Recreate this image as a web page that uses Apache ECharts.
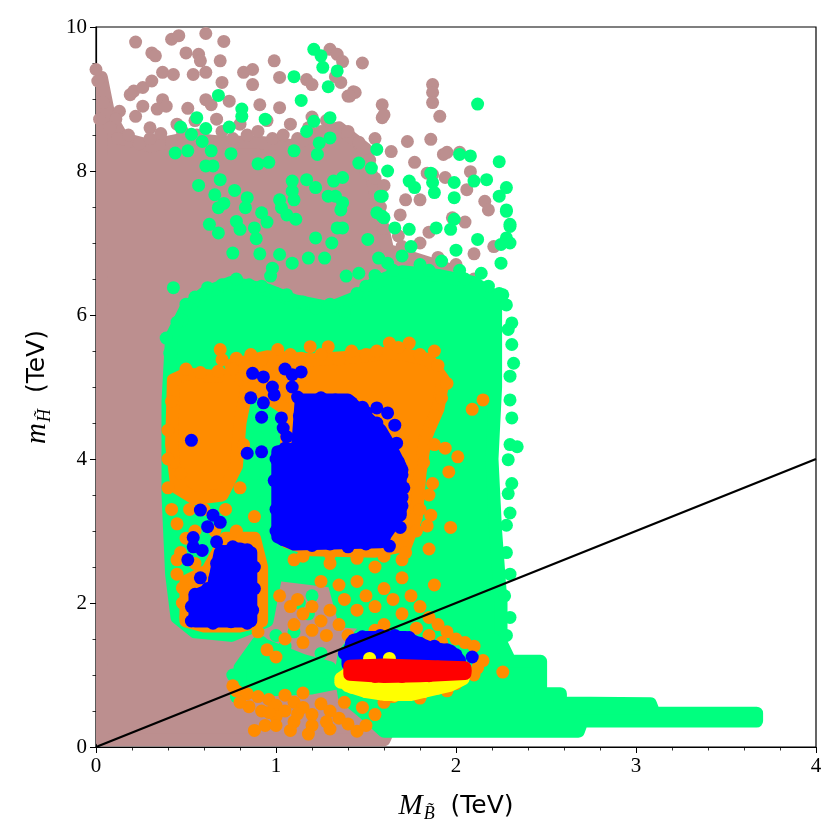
<!DOCTYPE html>
<html>
<head>
<meta charset="utf-8">
<script src="https://cdn.jsdelivr.net/npm/echarts@6/dist/echarts.min.js"></script>
<style>
	html, body { margin:0; padding:0; background:#fff; }
	#chart { width:840px; height:840px; }
</style>
</head>
<body>
<div id="chart"></div>
<script>
	// axis ticks
	var xTicks = [0, 1, 2, 3, 4];
	var yTicks = [0, 2, 4, 6, 8, 10];

	// dense regions (outlines of the dot clouds, TeV)
	var brownRegion = [[0.03,0.1],[0.03,9.3],[0.07,8.8],[0.15,8.45],[0.3,8.35],[0.5,8.45],[0.7,8.4],[0.9,8.4],[1.1,8.35],[1.2,8.5],[1.35,8.6],[1.5,8.3],[1.56,7.6],[1.62,6.9],[2.0,6.6],[2.15,6.2],[2.15,2.0],[1.8,1.2],[1.6,0.1]];
	var greenRegions = [
		[[0.42,5.7],[0.5,6.1],[0.6,6.3],[0.75,6.45],[0.95,6.35],[1.1,6.2],[1.3,6.1],[1.45,6.25],[1.55,6.45],[1.7,6.6],[1.9,6.55],[2.1,6.45],[2.22,6.25],[2.22,5.0],[2.2,4.0],[2.22,3.0],[2.25,2.0],[2.25,1.45],[1.9,1.55],[1.6,1.7],[1.38,1.75],[1.32,2.3],[1.0,2.4],[0.95,1.75],[0.75,1.55],[0.55,1.6],[0.45,1.8],[0.42,2.4],[0.4,3.5],[0.4,4.8]],
		[[0.8,0.78],[0.8,1.1],[0.9,1.45],[1.0,1.35],[1.15,1.2],[1.3,1.1],[1.36,0.9],[1.2,0.82],[1.0,0.8]],
		[[1.38,1.3],[1.5,1.65],[1.8,1.7],[2.05,1.6],[2.25,1.45],[2.3,1.19],[2.47,1.19],[2.47,0.74],[2.58,0.74],[2.58,0.61],[3.08,0.6],[3.1,0.47],[3.67,0.47],[3.67,0.36],[2.7,0.36],[2.68,0.22],[1.6,0.22],[1.5,0.45],[1.38,0.7],[1.36,1.0]]
	];
	var orangeRegions = [
		[[0.43,5.1],[0.5,5.18],[0.65,5.15],[0.8,5.18],[0.84,5.0],[0.8,4.5],[0.78,3.9],[0.7,3.5],[0.55,3.45],[0.45,3.6],[0.42,4.2]],
		[[0.5,1.75],[0.5,2.3],[0.62,2.45],[0.72,2.9],[0.88,2.9],[0.92,2.5],[0.92,1.75],[0.8,1.68],[0.6,1.68]],
		[[0.75,5.3],[0.95,5.42],[1.2,5.38],[1.45,5.42],[1.65,5.48],[1.85,5.38],[1.93,5.1],[1.9,4.7],[1.83,4.3],[1.8,3.8],[1.78,3.2],[1.72,2.8],[1.55,2.72],[1.2,2.74],[1.06,2.85],[1.06,4.2],[1.05,4.7],[0.9,4.95]]
	];
	var blueRegions = [
		[[1.01,2.92],[1.01,4.1],[1.12,4.15],[1.14,4.82],[1.4,4.82],[1.58,4.4],[1.65,4.1],[1.69,3.9],[1.69,3.25],[1.58,2.85],[1.1,2.82]],
		[[0.55,1.75],[0.55,2.1],[0.65,2.2],[0.69,2.7],[0.8,2.75],[0.86,2.7],[0.86,1.75]],
		[[1.4,1.3],[1.43,1.48],[1.5,1.52],[1.72,1.52],[1.78,1.45],[1.85,1.38],[1.97,1.33],[2.02,1.2],[1.4,1.15]]
	];
	var yellowRegion = [[1.36,0.95],[1.4,1.02],[2.0,1.0],[2.04,0.95],[1.97,0.86],[1.85,0.79],[1.75,0.73],[1.6,0.73],[1.5,0.77],[1.4,0.85]];
	var redRegion = [[1.41,1.01],[1.41,1.12],[1.6,1.14],[1.8,1.12],[2.05,1.1],[2.05,1.02],[1.8,0.99],[1.6,0.98]];

	// scattered points (TeV)
	var brownDots = [[0.22,9.79],[0.42,9.83],[0.46,9.88],[0.61,9.91],[0.71,9.8],[0.31,9.64],[0.33,9.6],[0.5,9.64],[0.57,9.62],[0.58,9.53],[0.69,9.53],[0.99,9.53],[1.02,9.3],[0.37,9.37],[0.43,9.34],[0.54,9.34],[0.61,9.37],[0.7,9.23],[0.82,9.37],[0.87,9.41],[0.87,9.2],[0.21,9.11],[0.19,9.06],[0.26,9.16],[0.31,9.25],[0.37,8.99],[0.26,8.9],[0.13,8.83],[0.11,8.72],[0.22,8.76],[0.34,8.86],[0.39,8.9],[0.51,8.87],[0.61,8.99],[0.64,8.92],[0.74,8.97],[0.91,8.92],[1.02,8.88],[0.01,9.25],[0.0,9.41],[0.04,8.95],[0.02,8.72],[0.3,8.6],[0.45,8.65],[0.55,8.7],[0.67,8.72],[0.8,8.65],[0.95,8.7],[1.08,8.65],[1.2,8.75],[1.25,8.55],[1.17,9.27],[1.2,9.2],[1.3,9.69],[1.34,9.62],[1.37,9.52],[1.48,9.5],[1.36,9.23],[1.33,9.31],[1.43,9.1],[1.4,9.04],[1.87,9.2],[1.87,9.09],[1.87,8.95],[1.91,8.76],[1.86,8.44],[1.73,8.41],[1.77,8.12],[1.93,8.23],[1.95,8.26],[2.02,8.26],[2.08,7.99],[1.94,7.91],[1.87,7.95],[2.06,7.74],[2.16,7.58],[2.18,7.46],[1.98,7.35],[2.05,7.29],[2.21,6.95],[1.8,7.6],[1.72,7.6],[1.69,7.39],[1.59,8.92],[1.59,8.74],[1.6,8.78],[1.44,9.09],[1.41,9.04],[1.64,8.27],[1.84,7.97],[1.55,8.45],[1.5,8.0],[1.6,7.8],[1.68,7.1],[1.85,7.15],[2.1,6.85]];
	var brownEdge = [[0.08,8.6],[0.12,8.45],[0.18,8.5],[0.24,8.38],[0.3,8.45],[0.36,8.52],[0.42,8.4],[0.48,8.55],[0.56,8.5],[0.62,8.42],[0.7,8.55],[0.76,8.45],[0.84,8.5],[0.9,8.55],[0.98,8.45],[1.04,8.5],[1.12,8.45],[1.18,8.6],[1.28,8.7],[1.4,8.55],[1.46,8.4],[1.52,8.15],[1.55,7.9],[1.58,7.5],[1.6,7.2],[1.7,6.95],[1.8,7.0],[1.9,6.8],[2.0,6.7],[2.1,6.5],[2.15,6.3]];
	var greenDots = [[1.21,9.69],[1.25,9.6],[1.26,9.44],[1.34,9.39],[1.29,9.17],[1.1,9.31],[1.14,8.98],[0.68,9.05],[0.56,8.74],[0.47,8.61],[0.53,8.51],[0.59,8.41],[0.61,8.59],[0.81,8.86],[0.81,8.76],[0.74,8.61],[0.94,8.72],[0.44,8.25],[0.51,8.28],[0.64,8.28],[0.75,8.24],[0.61,8.07],[0.65,8.07],[0.57,7.8],[0.69,7.88],[0.77,7.73],[0.84,7.63],[0.66,7.67],[0.68,7.49],[0.71,7.55],[0.83,7.49],[0.78,7.3],[0.8,7.19],[0.63,7.26],[0.68,7.14],[0.76,6.86],[0.88,7.21],[0.89,7.06],[0.91,6.85],[0.92,7.42],[0.95,7.29],[1.02,7.6],[1.03,7.49],[1.09,7.86],[1.09,7.72],[1.1,7.6],[1.06,7.39],[1.11,7.33],[1.1,8.28],[0.9,8.1],[0.96,8.12],[1.17,8.55],[1.21,8.69],[1.3,8.74],[1.17,7.88],[1.22,7.77],[1.23,8.23],[1.24,8.39],[1.3,8.46],[1.32,7.86],[1.37,7.91],[1.33,7.65],[1.37,7.56],[1.36,7.46],[1.34,7.21],[1.37,7.21],[1.29,7.65],[1.22,7.07],[1.31,7.0],[1.27,6.79],[1.18,6.79],[1.09,6.72],[1.02,6.84],[0.98,6.65],[0.97,6.54],[1.46,8.11],[1.53,8.04],[1.56,8.3],[1.62,8.0],[1.59,7.65],[1.56,7.42],[1.6,7.35],[1.66,7.21],[1.51,7.05],[1.57,6.79],[1.39,6.54],[1.46,6.58],[0.43,6.38],[0.48,5.93],[0.39,5.68],[0.41,5.47],[2.12,8.93],[2.24,8.13],[2.02,8.23],[2.08,8.21],[1.99,7.84],[1.99,7.63],[2.1,7.86],[2.17,7.88],[2.28,7.77],[2.24,7.65],[2.28,7.46],[2.3,7.23],[2.28,7.07],[2.25,6.98],[1.86,7.97],[1.87,7.84],[1.88,7.7],[1.74,7.86],[1.77,7.77],[1.99,7.33],[1.97,7.19],[1.74,7.19],[1.89,7.21],[1.58,7.65],[1.59,7.37],[2.28,7.44],[2.3,7.26],[2.3,7.0],[2.25,6.72],[2.26,6.28],[2.28,6.14],[2.31,5.89],[2.29,5.8],[2.31,5.59],[2.32,5.33],[2.3,5.15],[2.3,4.82],[2.31,4.57],[2.3,4.2],[2.34,4.17],[2.29,3.99],[2.31,3.66],[2.29,3.52],[2.3,3.25],[2.28,3.08],[2.28,2.7],[2.3,2.4],[2.27,2.1],[2.3,1.8],[2.28,1.55],[1.13,2.0],[1.18,1.85],[1.2,2.1],[1.0,1.55],[1.05,1.4],[1.1,1.6],[0.92,1.45],[1.25,1.3],[0.95,1.1],[0.76,1.0],[0.78,0.7],
		[0.6,4.6],[0.7,4.2],[0.55,3.8],[0.65,3.6],[0.75,4.8],[1.2,5.1],[1.5,5.2],[1.75,4.5],[1.78,3.4],[0.9,3.0],[0.92,3.4],[0.88,3.8],[0.9,4.3],[1.25,2.5],[1.45,2.45],[1.6,2.45],[0.65,2.5],[0.55,2.7],[0.7,3.2],
		[1.62,6.72],[1.7,6.82],[1.8,6.7],[1.92,6.75],[2.02,6.62],[2.14,6.58],[1.75,6.95],[2.0,6.9],[2.12,7.05]];
	var greenEdge = [[0.45,5.9],[0.5,6.15],[0.55,6.25],[0.62,6.38],[0.7,6.42],[0.78,6.5],[0.85,6.42],[0.92,6.4],[1.0,6.3],[1.06,6.28],[1.15,6.18],[1.22,6.1],[1.3,6.15],[1.38,6.05],[1.45,6.3],[1.5,6.4],[1.55,6.55],[1.65,6.62],[1.85,6.62],[2.05,6.5],[2.18,6.4],[2.24,6.3]];
	var orangeDots = [[0.69,5.52],[1.01,5.52],[1.19,5.56],[1.29,5.56],[1.63,5.61],[1.74,5.61],[1.88,5.5],[2.15,4.82],[2.09,4.69],[1.94,4.15],[2.01,4.03],[1.96,3.82],[1.87,3.66],[1.86,3.22],[1.97,3.05],[1.84,3.07],[0.48,2.21],[0.47,3.8],[0.43,3.96],[0.45,2.6],[0.55,2.55],[0.88,3.2],[1.1,2.6],[1.3,2.55],[1.55,2.5],[1.7,2.6],[1.85,2.75],[0.78,0.78],[0.84,0.74],[0.9,0.7],[0.96,0.66],[1.0,0.58],[1.05,0.72],[1.1,0.62],[1.15,0.55],[1.2,0.45],[1.25,0.6],[1.3,0.5],[1.35,0.4],[1.4,0.32],[1.45,0.22],[1.3,0.25],[1.2,0.3],[1.1,0.35],[1.0,0.42],[0.92,0.5],[0.85,0.56],[0.88,0.23],[0.94,0.3],[1.08,0.23],[1.18,0.18],[1.5,0.3],[1.55,0.45],[1.48,0.55],[1.38,0.62],[1.0,0.3],[0.8,0.62],[0.76,0.85],[0.96,0.48],[1.12,0.46],[1.28,0.35],[1.6,0.62],[1.15,0.75],[1.05,0.5],[1.02,2.1],[1.08,1.95],[1.12,2.05],[1.15,1.85],[1.2,1.95],[1.25,1.75],[1.3,1.9],[1.35,1.7],[1.28,1.55],[1.2,1.62],[1.1,1.7],[1.05,1.5],[1.15,1.45],[1.38,2.05],[1.45,1.9],[1.5,2.1],[1.55,1.95],[1.6,2.2],[1.65,2.05],[1.7,1.85],[1.75,2.1],[1.8,1.95],[1.85,1.8],[1.9,1.7],[1.95,1.6],[2.0,1.5],[2.05,1.45],[1.78,1.65],[1.85,1.55],[1.92,1.45],[2.1,1.4],[2.12,1.1],[2.15,1.2],[2.1,1.0],[2.0,0.88],[2.26,1.04],[1.45,2.3],[1.25,2.3],[1.35,2.25],[0.95,1.35],[1.0,1.25],[0.9,1.6],[1.7,2.35],[1.88,2.25],[1.6,1.7],[1.55,1.62],[1.4,1.55],[1.65,0.7],[1.8,0.68],[1.95,0.78]];
	var orangeEdge = [[0.7,5.38],[0.78,5.4],[0.86,5.45],[0.92,5.38],[1.08,5.45],[1.14,5.4],[1.25,5.45],[1.35,5.38],[1.42,5.5],[1.5,5.45],[1.56,5.5],[1.68,5.55],[1.8,5.45],[1.9,5.3],[1.95,5.05],[1.92,4.85],[1.88,4.6],[1.84,4.35],[1.88,4.2],[1.82,3.95],[1.85,3.5],[1.8,3.3],[1.78,3.0],[1.72,2.7],[1.6,2.65],[1.45,2.62],[1.3,2.68],[1.15,2.65],[0.4,4.0],[0.4,4.4],[0.42,4.8],[0.44,5.1],[0.5,5.25],[0.58,5.2],[0.68,5.22],[0.76,5.25],[0.84,5.15],[0.4,3.6],[0.42,3.3],[0.45,3.1],[0.5,2.9],[0.47,2.7],[0.55,3.0],[0.6,3.3],[0.72,3.3],[0.78,3.0],[0.82,2.8],[0.75,2.5],[0.68,2.4],[0.62,2.3],[0.45,2.4],[0.48,2.0],[0.5,1.8],[0.82,4.2],[0.8,3.6],[0.52,3.3],[0.66,3.0]];
	var blueDots = [[0.54,2.91],[0.59,2.73],[0.51,2.6],[0.58,2.35],[0.62,3.06],[0.67,2.85],[0.58,3.29],[0.65,3.22],[0.69,3.12],[0.54,2.78],[0.53,4.26],[0.84,4.08],[0.92,4.1],[0.86,4.85],[0.93,4.78],[0.87,5.19],[0.93,5.14],[1.05,5.25],[1.09,5.17],[1.14,5.21],[0.98,5.0],[0.99,4.89],[1.09,5.0],[1.12,4.86],[0.92,4.58],[1.03,4.57],[1.04,4.43],[1.06,4.31],[1.39,4.79],[1.48,4.72],[1.56,4.71],[1.62,4.64],[1.66,4.47],[1.61,4.24],[1.67,4.22],[1.68,3.96],[1.7,3.78],[1.7,3.47],[1.69,3.22],[1.69,3.05],[1.63,2.79],[2.09,1.25]];
	var blueEdge = [[1.0,3.0],[1.0,3.3],[0.99,3.7],[1.0,4.0],[1.05,4.15],[1.12,4.3],[1.13,4.6],[1.18,4.8],[1.25,4.85],[1.33,4.82],[1.42,4.78],[1.5,4.65],[1.56,4.5],[1.6,4.3],[1.65,4.05],[1.7,3.85],[1.71,3.6],[1.7,3.35],[1.66,3.1],[1.6,2.9],[1.5,2.82],[1.4,2.78],[1.3,2.82],[1.2,2.8],[1.1,2.84],[1.04,2.88],[0.53,1.75],[0.53,1.95],[0.55,2.12],[0.62,2.2],[0.66,2.35],[0.67,2.55],[0.7,2.72],[0.76,2.78],[0.84,2.74],[0.88,2.5],[0.88,2.2],[0.87,1.9],[0.84,1.72],[0.75,1.74],[0.65,1.72],[1.38,1.3],[1.42,1.45],[1.48,1.53],[1.58,1.55],[1.66,1.55],[1.74,1.52],[1.8,1.44],[1.88,1.4],[1.95,1.35],[2.0,1.28]];
	var yellowDots = [[1.52,1.23],[1.63,1.23],[1.36,0.9],[1.42,0.83],[1.5,0.77],[1.58,0.74],[1.66,0.72],[1.74,0.73],[1.82,0.77],[1.9,0.82],[1.97,0.87],[2.02,0.93]];
	var redDots = [[1.42,1.05],[1.5,1.12],[1.6,1.1],[1.7,1.12],[1.8,1.1],[1.9,1.11],[2.0,1.1],[2.05,1.06],[1.55,0.98],[1.7,0.98],[1.85,0.99]];
	var diagonal = [[0, 0], [4, 4]];

	var DOT = 13;
	var chart = echarts.init(document.getElementById('chart'));

	function regionSeries(points, color, z) {
		return {
			type : 'custom',
			coordinateSystem : 'cartesian2d',
			clip : true,
			silent : true,
			z : z,
			data : [[points[0][0], points[0][1]]],
			renderItem : function(params, api) {
				var pts = [];
				for (var i = 0; i < points.length; i++) {
					pts.push(api.coord(points[i]));
				}
				return {
					type : 'polygon',
					shape : { points : pts },
					style : { fill : color, stroke : color, lineWidth : DOT, lineJoin : 'round' }
				};
			}
		};
	}
	function dotSeries(points, color, z) {
		return {
			type : 'scatter',
			data : points,
			symbolSize : DOT,
			clip : true,
			silent : true,
			z : z,
			itemStyle : { color : color, opacity : 1 }
		};
	}

	var series = [];
	series.push(regionSeries(brownRegion, '#bc8f8f', 2));
	series.push(dotSeries(brownDots.concat(brownEdge), '#bc8f8f', 3));
	for (var i = 0; i < greenRegions.length; i++) series.push(regionSeries(greenRegions[i], '#00ff7f', 4));
	series.push(dotSeries(greenDots.concat(greenEdge), '#00ff7f', 5));
	for (var i = 0; i < orangeRegions.length; i++) series.push(regionSeries(orangeRegions[i], '#ff8c00', 6));
	series.push(dotSeries(orangeDots.concat(orangeEdge), '#ff8c00', 7));
	for (var i = 0; i < blueRegions.length; i++) series.push(regionSeries(blueRegions[i], '#0000ff', 8));
	series.push(dotSeries(blueDots.concat(blueEdge), '#0000ff', 9));
	series.push(regionSeries(yellowRegion, '#ffff00', 10));
	series.push(dotSeries(yellowDots, '#ffff00', 11));
	series.push(regionSeries(redRegion, '#ff0000', 12));
	series.push(dotSeries(redDots, '#ff0000', 13));
	series.push({
		type : 'line',
		data : diagonal,
		symbol : 'none',
		z : 14,
		silent : true,
		lineStyle : { color : '#000', width : 2.2 }
	});

	var serif = 'Liberation Serif';
	var nameRich = {
		m : { fontFamily : serif, fontStyle : 'italic', fontSize : 29, color : '#000' },
		s : { fontFamily : serif, fontStyle : 'italic', fontSize : 18, color : '#000', padding : [16, 0, 0, 1] },
		t : { fontFamily : 'DejaVu Sans', fontSize : 25, color : '#000' }
	};
	var option = {
		animation : false,
		backgroundColor : '#fff',
		grid : {
			left : 96, right : 24, top : 27, bottom : 93,
			show : true, borderColor : '#000', borderWidth : 1.2, backgroundColor : 'transparent'
		},
		xAxis : {
			type : 'value',
			min : xTicks[0], max : xTicks[xTicks.length - 1], interval : 1,
			name : '{m|M}{s|B\u0303}{t|  (TeV)}',
			nameLocation : 'middle',
			nameGap : 42,
			nameTextStyle : { rich : nameRich },
			axisLine : { show : true, lineStyle : { color : '#000', width : 1.2 } },
			axisTick : { show : true, length : 6, lineStyle : { color : '#000', width : 1 } },
			minorTick : { show : true, splitNumber : 5, length : 3.5, lineStyle : { color : '#000', width : 0.8 } },
			splitLine : { show : false },
			axisLabel : { fontFamily : serif, fontSize : 21, color : '#000', margin : 9,
				formatter : function(v) { return xTicks.indexOf(v) >= 0 ? String(v) : ''; } }
		},
		yAxis : {
			type : 'value',
			min : yTicks[0], max : yTicks[yTicks.length - 1], interval : 2,
			name : '{m|m}{s|H\u0303}{t|  (TeV)}',
			nameLocation : 'middle',
			nameRotate : 90,
			nameGap : 42,
			nameTextStyle : { rich : nameRich },
			axisLine : { show : true, lineStyle : { color : '#000', width : 1.2 } },
			axisTick : { show : true, length : 6, lineStyle : { color : '#000', width : 1 } },
			minorTick : { show : true, splitNumber : 4, length : 3.5, lineStyle : { color : '#000', width : 0.8 } },
			splitLine : { show : false },
			axisLabel : { fontFamily : serif, fontSize : 21, color : '#000', margin : 9,
				formatter : function(v) { return yTicks.indexOf(v) >= 0 ? String(v) : ''; } }
		},
		series : series
	};
	chart.setOption(option);
</script>
</body>
</html>
